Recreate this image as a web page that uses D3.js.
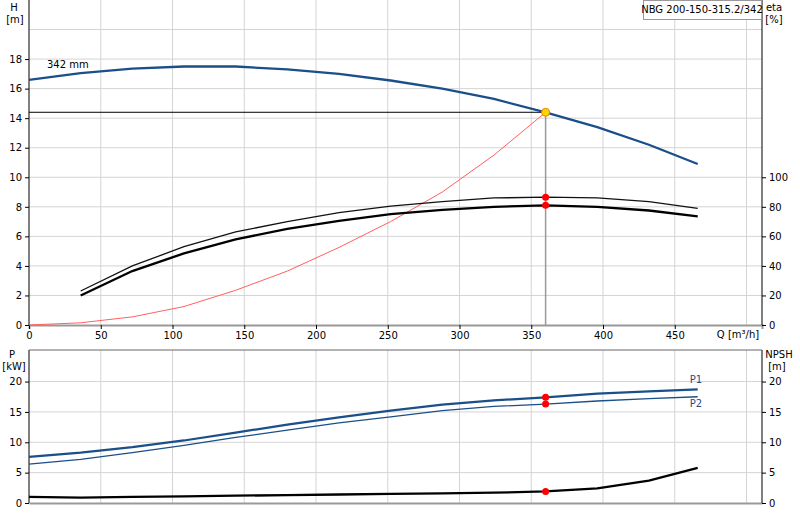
<!DOCTYPE html><html><head><meta charset="utf-8">
<script src="https://cdn.jsdelivr.net/npm/d3@7"></script>
<style>body{margin:0;background:#fff}text{font-family:"DejaVu Sans",Verdana,sans-serif;font-size:10px}</style></head><body>
<svg id="c" width="800" height="520"></svg>
<script>
const qPts=[0,36,72,108,144,180,216,252,288,324,360,396,432,466];
const headH=[16.6,17.05,17.35,17.5,17.5,17.3,17.0,16.55,16.0,15.3,14.4,13.4,12.2,10.9];
const etaQ=[36,72,108,144,180,216,252,288,324,360,396,432,466];
const etaUpper=[23,40,53,63,70,76,80.5,83.5,86,86.5,86,83.5,79];
const etaLower=[20,36.5,48.5,58,65,70.5,75,78,80,81,80,77.5,73.5];
const sysQ=[0,36,72,108,144,180,216,252,288,324,360];
const sysH=[0,0.15,0.55,1.25,2.35,3.65,5.25,7.0,9.0,11.5,14.4];
const p1=[7.6,8.3,9.2,10.3,11.6,12.9,14.1,15.2,16.2,16.9,17.4,18.0,18.4,18.7];
const p2=[6.4,7.2,8.3,9.5,10.8,12.0,13.2,14.2,15.2,15.9,16.3,16.8,17.2,17.5];
const npsh=[1.0,0.9,1.0,1.1,1.2,1.3,1.4,1.5,1.6,1.7,1.9,2.4,3.7,5.8];
const dutyQ=360, dutyH=14.4, dutyEtaU=86.5, dutyEtaL=81, dutyP1=17.4, dutyP2=16.3, dutyNpsh=1.9;
const qTicks=[0,50,100,150,200,250,300,350,400,450];
const hTicks=[0,2,4,6,8,10,12,14,16,18];
const etaTicks=[0,20,40,60,80,100];
const pTicks=[0,5,10,15,20];
const title="NBG 200-150-315.2/342";

const svg=d3.select("#c");
const x=d3.scaleLinear().domain([0,510.8]).range([29,762]);
const y=d3.scaleLinear().domain([0,22]).range([325,0]);
const ye=d3.scaleLinear().domain([0,220]).range([325,0]);
const yp=d3.scaleLinear().domain([0,25.2]).range([503,350]);
const grid="#d4d4d4";
d3.range(50,501,50).forEach(q=>svg.append("line").attr("x1",x(q)).attr("x2",x(q)).attr("y1",0).attr("y2",325).attr("stroke",grid));
d3.range(2,21,2).forEach(h=>svg.append("line").attr("x1",29).attr("x2",762).attr("y1",y(h)).attr("y2",y(h)).attr("stroke",grid));
d3.range(50,501,50).forEach(q=>svg.append("line").attr("x1",x(q)).attr("x2",x(q)).attr("y1",350).attr("y2",503).attr("stroke",grid));
d3.range(5,21,5).forEach(p=>svg.append("line").attr("x1",29).attr("x2",762).attr("y1",yp(p)).attr("y2",yp(p)).attr("stroke",grid));
svg.append("g").attr("transform","translate(0,325)").call(d3.axisBottom(x).tickValues(qTicks).tickSize(4).tickFormat(d3.format("d"))).call(g=>g.select(".domain").attr("stroke","#999").attr("stroke-width",2));
svg.append("g").attr("transform","translate(29,0)").call(d3.axisLeft(y).tickValues(hTicks).tickSize(4)).call(g=>g.select(".domain").attr("d","M0,0V325"));
svg.append("g").attr("transform","translate(762,0)").call(d3.axisRight(ye).tickValues(etaTicks).tickSize(4)).call(g=>g.select(".domain").attr("d","M0,0V325"));
svg.append("g").attr("transform","translate(0,503)").call(d3.axisBottom(x).tickValues(qTicks).tickSize(0).tickFormat("")).call(g=>g.select(".domain").attr("stroke","#999").attr("stroke-width",2));
svg.append("g").attr("transform","translate(29,0)").call(d3.axisLeft(yp).tickValues(pTicks).tickSize(4)).call(g=>g.select(".domain").attr("d","M0,350V503"));
svg.append("g").attr("transform","translate(762,0)").call(d3.axisRight(yp).tickValues(pTicks).tickSize(4)).call(g=>g.select(".domain").attr("d","M0,350V503"));
svg.append("line").attr("x1",29).attr("x2",762).attr("y1",350).attr("y2",350).attr("stroke","#666");
svg.selectAll(".tick text").attr("font-size",10).attr("fill","#000").attr("font-family","DejaVu Sans,Verdana,sans-serif");
const t=(s,xx,yy,a)=>svg.append("text").attr("x",xx).attr("y",yy).attr("text-anchor",a||"middle").text(s);
t("H",14,11);t("[m]",15,23);t("eta",774,11);t("[%]",774,23);
t("P",12,358);t("[kW]",14,370);t("NPSH",779,358);t("[m]",777,370);
t("Q [m³/h]",738,338);t("342 mm",47,68,"start");
svg.append("rect").attr("x",643.5).attr("y",0.5).attr("width",118).attr("height",19).attr("fill","#fff").attr("stroke","#999");
t(title,702,13);
t("P1",696,383).attr("fill","#1a4f8a");t("P2",696,407).attr("fill","#1a4f8a");
const line=(xs,ys,yy)=>d3.line().x((d,i)=>x(xs[i])).y(d=>yy(d))(ys);
svg.append("line").attr("x1",29).attr("x2",x(dutyQ)).attr("y1",y(dutyH)).attr("y2",y(dutyH)).attr("stroke","#000");
svg.append("line").attr("x1",x(dutyQ)).attr("x2",x(dutyQ)).attr("y1",y(dutyH)).attr("y2",325).attr("stroke","#999").attr("stroke-width",1.5);
svg.append("path").attr("d",line(sysQ,sysH,y)).attr("fill","none").attr("stroke","#ff6060").attr("stroke-width",1);
svg.append("path").attr("d",line(qPts,headH,y)).attr("fill","none").attr("stroke","#1a4f8a").attr("stroke-width",2.3);
svg.append("path").attr("d",line(etaQ,etaUpper,ye)).attr("fill","none").attr("stroke","#111").attr("stroke-width",1.3);
svg.append("path").attr("d",line(etaQ,etaLower,ye)).attr("fill","none").attr("stroke","#000").attr("stroke-width",2.3);
svg.append("path").attr("d",line(qPts,p1,yp)).attr("fill","none").attr("stroke","#1a4f8a").attr("stroke-width",2.2);
svg.append("path").attr("d",line(qPts,p2,yp)).attr("fill","none").attr("stroke","#1a4f8a").attr("stroke-width",1.3);
svg.append("path").attr("d",line(qPts,npsh,yp)).attr("fill","none").attr("stroke","#000").attr("stroke-width",2.3);
const dot=(yy,f,s)=>svg.append("circle").attr("cx",x(dutyQ)).attr("cy",yy).attr("r",s?4:3.5).attr("fill",f).attr("stroke",s||"none");
dot(ye(dutyEtaU),"#f00");dot(ye(dutyEtaL),"#f00");dot(yp(dutyP1),"#f00");dot(yp(dutyP2),"#f00");dot(yp(dutyNpsh),"#f00");
dot(y(dutyH),"#ffd700","#f08000");
</script></body></html>
